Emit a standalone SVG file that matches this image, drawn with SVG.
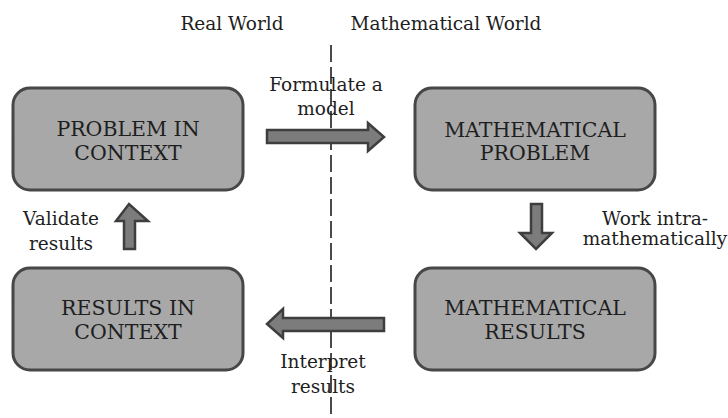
<svg xmlns="http://www.w3.org/2000/svg" width="728" height="418" viewBox="0 0 728 418">
<style>
text{font-family:"DejaVu Serif","Liberation Serif",serif;fill:#1e1e1e}
.box{fill:#a8a8a8;stroke:#474747;stroke-width:3}
.bt{font-size:20.5px;text-anchor:middle}
.lb{font-size:18.5px;text-anchor:middle}
.arr{fill:#7c7c7c;stroke:#3e3e3e;stroke-width:2.5;stroke-linejoin:miter}
.divider{stroke:#4a4a4a;stroke-width:2;stroke-dasharray:17 5;fill:none}
</style>
<rect width="728" height="418" fill="#fff"/>
<g id="headers">
<text class="lb" x="232" y="30">Real World</text>
<text class="lb" x="446" y="30">Mathematical World</text>
</g>
<g id="connectors">
<line class="divider" x1="331" y1="45" x2="331" y2="418"/>
<polygon class="arr" points="267,130 368,130 368,123 384,137 368,151 368,143 267,143"/>
<polygon class="arr" points="531,204 542,204 542,233 552,233 536,249 520,233 531,233"/>
<polygon class="arr" points="124,249 135,249 135,221 148,221 129,204 116,221 124,221"/>
<polygon class="arr" points="384,318 283,318 283,309 267,324 283,338 283,331 384,331"/>
<text class="lb" x="326" y="91">Formulate a</text>
<text class="lb" x="326" y="115">model</text>
<text class="lb" x="655" y="225">Work intra-</text>
<text class="lb" x="655" y="245">mathematically</text>
<text class="lb" x="61" y="225">Validate</text>
<text class="lb" x="61" y="250">results</text>
<text class="lb" x="323" y="368">Interpret</text>
<text class="lb" x="323" y="393">results</text>
</g>
<g id="problem-in-context">
<rect class="box" x="13" y="88" width="230" height="102" rx="17"/>
<text class="bt" x="128" y="136">PROBLEM IN</text>
<text class="bt" x="128" y="160">CONTEXT</text>
</g>
<g id="mathematical-problem">
<rect class="box" x="415" y="88" width="240" height="102" rx="17"/>
<text class="bt" x="535" y="137">MATHEMATICAL</text>
<text class="bt" x="535" y="160">PROBLEM</text>
</g>
<g id="mathematical-results">
<rect class="box" x="415" y="268" width="240" height="102" rx="17"/>
<text class="bt" x="535" y="315">MATHEMATICAL</text>
<text class="bt" x="535" y="339">RESULTS</text>
</g>
<g id="results-in-context">
<rect class="box" x="13" y="268" width="230" height="102" rx="17"/>
<text class="bt" x="128" y="315">RESULTS IN</text>
<text class="bt" x="128" y="339">CONTEXT</text>
</g>
</svg>
